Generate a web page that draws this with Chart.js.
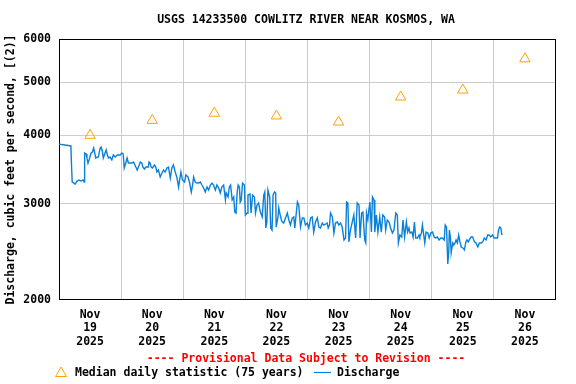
<!DOCTYPE html>
<html>
<head>
<meta charset="utf-8">
<script src="https://cdn.jsdelivr.net/npm/chart.js@4/dist/chart.umd.min.js"></script>
<style>
  html, body { margin: 0; padding: 0; background: #fff; }
  canvas { display: block; }
</style>
</head>
<body>
<canvas id="hydro" width="576" height="384"></canvas>
<script>
"use strict";

const titleText = "USGS 14233500 COWLITZ RIVER NEAR KOSMOS, WA";
const yAxisTitle = "Discharge, cubic feet per second, [(2)]";
const provisionalText = "---- Provisional Data Subject to Revision ----";
const medianLabel = "Median daily statistic (75 years)";
const dischargeLabel = "Discharge";

// x axis: hours since Nov 19 2025 00:00
const dayLabels = [["Nov", "19", "2025"], ["Nov", "20", "2025"], ["Nov", "21", "2025"], ["Nov", "22", "2025"],
                   ["Nov", "23", "2025"], ["Nov", "24", "2025"], ["Nov", "25", "2025"], ["Nov", "26", "2025"]];
const yTickValues = [2000, 3000, 4000, 5000, 6000];

const medianHours = [12, 36, 60, 84, 108, 132, 156, 180];
const medianCfs = [4000, 4260, 4390, 4340, 4230, 4700, 4840, 5520];

const dischargeHours = [
  0, 2.3, 4.6, 4.8, 5.1, 5.8, 6.2, 7.0, 7.7, 8.5, 9.3, 9.7, 9.9, 10.5, 10.8, 11.2, 11.6, 12.4, 12.9, 13.4,
  13.8, 14.2, 14.7, 15.2, 15.9, 16.3, 16.8, 17.1, 17.8, 18.2, 18.7, 19.1, 19.7, 20.4, 21.0, 21.7, 22.5, 23.6, 24.3, 24.8,
  25.2, 25.8, 26.3, 26.8, 28.1, 28.8, 30.2, 31.0, 31.4, 32.0, 32.4, 33.0, 33.6, 34.1, 34.5, 34.8, 35.2, 35.6, 36.1, 36.9,
  37.4, 37.8, 38.4, 39.1, 39.8, 40.4, 41.0, 41.7, 42.3, 43.0, 43.6, 44.2, 44.9, 45.6, 46.2, 46.6, 47.1, 47.7, 48.5, 49.0,
  49.8, 50.4, 51.1, 51.6, 52.0, 52.6, 53.3, 53.9, 54.6, 55.2, 55.9, 56.5, 57.2, 57.8, 58.5, 59.1, 59.7, 60.4, 61.0, 61.7,
  62.3, 62.9, 63.6, 64.3, 64.6, 65.3, 65.8, 66.3, 66.9, 67.5, 67.9, 68.4, 68.8, 69.2, 69.7, 70.0, 70.4, 70.9, 71.6, 72.0,
  72.7, 73.0, 73.8, 74.2, 74.8, 75.5, 75.9, 76.5, 77.1, 77.8, 78.5, 79.1, 79.5, 79.9, 80.3, 80.7, 81.4, 81.8, 82.3, 82.7,
  83.3, 83.7, 83.9, 84.6, 84.9, 85.3, 85.9, 86.3, 86.8, 87.5, 88.2, 88.8, 89.4, 90.1, 90.7, 91.1, 91.7, 92.1, 92.6, 93.3,
  94.0, 94.6, 95.2, 95.9, 96.5, 97.2, 97.8, 98.4, 99.1, 99.8, 100.4, 101.0, 101.7, 102.3, 103.0, 103.6, 104.0, 104.5, 104.9, 105.6,
  106.2, 106.8, 107.5, 108.1, 108.8, 109.4, 110.1, 110.7, 111.1, 111.6, 112.0, 112.6, 113.3, 113.9, 114.6, 115.2, 115.9, 116.3, 116.9, 117.4,
  118.1, 118.5, 118.8, 119.3, 119.7, 120.1, 120.7, 121.1, 121.7, 122.0, 122.6, 123.2, 123.9, 124.5, 125.1, 125.8, 126.2, 126.8, 127.5, 128.1,
  128.8, 129.4, 130.1, 130.7, 131.1, 131.7, 132.4, 132.9, 133.5, 134.2, 134.7, 135.2, 135.6, 136.3, 136.8, 137.3, 137.8, 138.5, 139.1, 139.4,
  140.0, 140.4, 140.8, 141.3, 141.8, 142.5, 143.0, 143.6, 144.3, 144.9, 145.5, 146.2, 146.8, 147.5, 148.1, 148.8, 149.2, 149.7, 150.2, 150.6,
  150.8, 151.2, 151.5, 152.1, 152.5, 153.0, 153.4, 153.9, 154.4, 154.9, 155.4, 156.0, 156.6, 157.2, 157.6, 158.1, 158.5, 159.2, 159.8, 160.5,
  161.1, 161.8, 162.4, 163.1, 163.7, 164.3, 165.0, 165.6, 166.2, 166.8, 167.5, 168.1, 168.8, 169.4, 169.8, 170.3, 170.7, 171.1
];
const dischargeCfs = [
  3855, 3840, 3825, 3560, 3286, 3272, 3258, 3300, 3314, 3300, 3314, 3286, 3713, 3697, 3635, 3560, 3606, 3713, 3729, 3792,
  3713, 3635, 3650, 3650, 3792, 3808, 3729, 3635, 3713, 3760, 3682, 3635, 3650, 3606, 3682, 3650, 3682, 3682, 3713, 3697,
  3486, 3560, 3635, 3560, 3560, 3575, 3457, 3530, 3575, 3560, 3500, 3471, 3500, 3500, 3500, 3575, 3560, 3500, 3486, 3530,
  3500, 3428, 3457, 3357, 3414, 3457, 3428, 3486, 3500, 3342, 3486, 3530, 3428, 3342, 3218, 3314, 3428, 3314, 3286, 3385,
  3357, 3286, 3151, 3245, 3357, 3286, 3272, 3272, 3286, 3245, 3204, 3151, 3218, 3178, 3245, 3272, 3245, 3178, 3245, 3204,
  3138, 3218, 3245, 3047, 3138, 3085, 3218, 3245, 3047, 3085, 2896, 2884, 3138, 3245, 3218, 3021, 3047, 3272, 3245, 2860,
  2884, 3111, 3124, 2884, 3111, 3085, 2884, 2983, 3008, 2896, 2836, 3111, 3151, 2708, 2777, 3178, 3085, 2708, 2685, 3111,
  3151, 3138, 2719, 2836, 2946, 2884, 2801, 2777, 2765, 2825, 2884, 2801, 2742, 2825, 2836, 2708, 2896, 3021, 2983, 2719,
  2825, 2825, 2742, 2765, 2708, 2825, 2836, 2662, 2777, 2825, 2719, 2708, 2765, 2742, 2754, 2765, 2708, 2742, 2884, 2836,
  2651, 2765, 2777, 2742, 2765, 2719, 2575, 2597, 3021, 3008, 2554, 2685, 2777, 2860, 2597, 3008, 2983, 2597, 2884, 2896,
  2575, 2543, 2884, 2801, 2921, 3021, 2662, 3085, 3047, 2662, 2860, 2662, 2836, 2662, 2860, 2836, 2685, 2801, 2777, 2708,
  2651, 2685, 2884, 2860, 2543, 2629, 2607, 2801, 2607, 2777, 2662, 2708, 2651, 2662, 2607, 2777, 2597, 2597, 2629, 2607,
  2651, 2742, 2651, 2543, 2662, 2651, 2597, 2651, 2662, 2607, 2597, 2607, 2575, 2597, 2597, 2575, 2742, 2719, 2328, 2469,
  2685, 2607, 2438, 2543, 2521, 2543, 2575, 2543, 2629, 2554, 2500, 2490, 2469, 2554, 2575, 2554, 2575, 2607, 2607, 2554,
  2543, 2500, 2543, 2543, 2554, 2597, 2575, 2629, 2629, 2607, 2629, 2597, 2597, 2597, 2685, 2719, 2708, 2629
];

const FONT = "'DejaVu Sans Mono', 'Liberation Mono', monospace";
const ORANGE = "#ffa200";
const BLUE = "#0a80d8";
const GRID = "#cccccc";

const canvas = document.querySelector("#hydro").getContext("2d");

const framePlugin = {
  id: "frame",
  beforeDatasetsDraw(chart) {
    const a = chart.chartArea;
    const ctx = chart.ctx;
    ctx.save();
    ctx.strokeStyle = "#000";
    ctx.lineWidth = 1;
    ctx.strokeRect(Math.round(a.left) + 0.5, Math.round(a.top) + 0.5,
                   Math.round(a.right - a.left) - 1, Math.round(a.bottom - a.top) - 1);
    ctx.restore();
  },
  afterDraw(chart) {
    const ctx = chart.ctx;
    ctx.save();
    ctx.font = "bold 11.5px " + FONT;
    ctx.textBaseline = "middle";
    ctx.textAlign = "center";
    ctx.fillStyle = "#000";
    ctx.fillText(titleText, 306, 20);
    ctx.fillStyle = "#ff0000";
    ctx.fillText(provisionalText, 306, 359);

    // legend
    ctx.strokeStyle = ORANGE;
    ctx.lineWidth = 1;
    ctx.beginPath();
    ctx.moveTo(61, 367);
    ctx.lineTo(66.5, 376.5);
    ctx.lineTo(55.5, 376.5);
    ctx.closePath();
    ctx.stroke();
    ctx.textAlign = "left";
    ctx.fillStyle = "#000";
    ctx.fillText(medianLabel, 75, 373);
    ctx.strokeStyle = BLUE;
    ctx.lineWidth = 1.2;
    ctx.beginPath();
    ctx.moveTo(314, 372.5);
    ctx.lineTo(331, 372.5);
    ctx.stroke();
    ctx.fillText(dischargeLabel, 337, 373);
    ctx.restore();
  }
};

const chart = new Chart(canvas, {
  type: "line",
  data: {
    datasets: [
      {
        label: medianLabel,
        data: medianHours.map((h, i) => ({ x: h, y: medianCfs[i] })),
        showLine: false,
        pointStyle: "triangle",
        pointRadius: 6,
        pointBorderColor: ORANGE,
        pointBackgroundColor: "rgba(0,0,0,0)",
        pointBorderWidth: 1,
      },
      {
        label: dischargeLabel,
        data: dischargeHours.map((h, i) => ({ x: h, y: dischargeCfs[i] })),
        borderColor: BLUE,
        borderWidth: 1.4,
        pointRadius: 0,
        tension: 0,
        fill: false,
      },
    ],
  },
  options: {
    responsive: false,
    devicePixelRatio: 1,
    animation: false,
    layout: { padding: { top: 39, right: 20, left: 0, bottom: 0 } },
    plugins: {
      legend: { display: false },
      title: { display: false },
      tooltip: { enabled: false },
    },
    scales: {
      x: {
        type: "linear",
        min: 0,
        max: 192,
        afterBuildTicks: (scale) => {
          const t = [];
          for (let h = 0; h <= 192; h += 12) t.push({ value: h });
          scale.ticks = t;
        },
        afterFit: (scale) => { scale.height = 84; },
        border: { display: false },
        grid: {
          drawTicks: false,
          color: (ctx) => {
            const v = ctx.tick ? ctx.tick.value : 0;
            return (v % 24 === 0 && v > 0 && v < 192) ? GRID : "rgba(0,0,0,0)";
          },
        },
        ticks: {
          autoSkip: false,
          maxRotation: 0,
          padding: 8,
          color: "#000",
          font: { family: FONT, size: 11.5, weight: "bold", lineHeight: 1.17 },
          callback: (v) => (v % 24 === 12 ? dayLabels[(v - 12) / 24] : ""),
        },
      },
      y: {
        type: "logarithmic",
        min: 2000,
        max: 6000,
        afterBuildTicks: (scale) => { scale.ticks = yTickValues.map(v => ({ value: v })); },
        afterFit: (scale) => { scale.width = 59; },
        border: { display: false },
        grid: {
          drawTicks: false,
          color: (ctx) => {
            const v = ctx.tick ? ctx.tick.value : 0;
            return (v > 2000 && v < 6000) ? GRID : "rgba(0,0,0,0)";
          },
        },
        ticks: {
          padding: 8,
          color: "#000",
          font: { family: FONT, size: 11.5, weight: "bold" },
          callback: (v) => String(v),
        },
        title: {
          display: true,
          text: yAxisTitle,
          color: "#000",
          padding: { top: 4, bottom: 0 },
          font: { family: FONT, size: 11.5, weight: "bold" },
        },
      },
    },
  },
  plugins: [framePlugin],
});
</script>
</body>
</html>
